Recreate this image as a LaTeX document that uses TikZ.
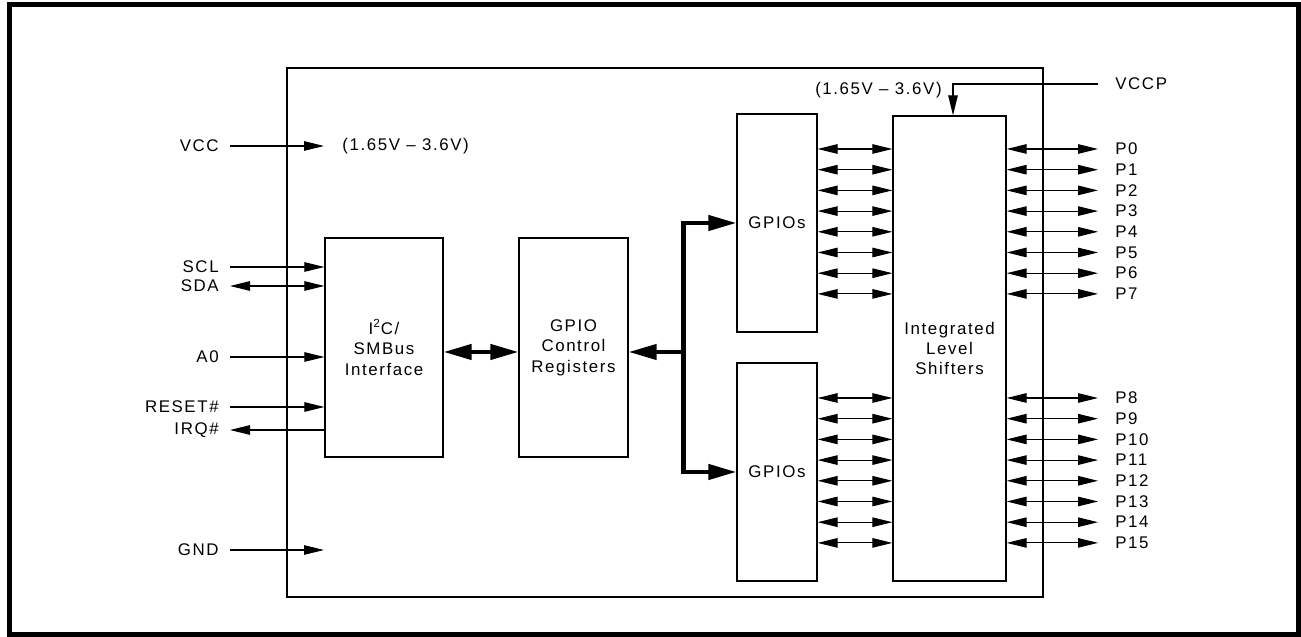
\documentclass[tikz,border=0pt]{standalone}
\usepackage{fontspec}
\setmainfont{Liberation Sans}[LetterSpace=9.5]
\usetikzlibrary{arrows.meta,positioning}

\begin{document}
\begin{tikzpicture}[
  font=\fontsize{9.6}{11.6}\selectfont,
  >={Triangle[length=0.4cm,width=0.19cm]},
  bustip/.tip={Triangle[length=0.56cm,width=0.3cm]},
  blk/.style={draw, line width=0.7pt, align=center, inner sep=0pt},
  sig/.style={line width=0.6pt},
  bus/.style={line width=2.4pt},
  pinl/.style={anchor=east, inner xsep=0.22cm, inner ysep=0pt},
  pinr/.style={anchor=west, inner xsep=0.34cm, inner ysep=0pt}
]
\useasboundingbox (0,0) rectangle (26.02,12.74);
\draw[line width=0.1cm] (0.196,0.05) rectangle (25.97,12.656);
\node[blk, line width=0.6pt, minimum width=15.12cm, minimum height=10.58cm] (chip) at (13.3,6.09) {};

\node[blk, minimum width=2.36cm, minimum height=4.38cm] (i2c) at (7.68,5.79) {I\textsuperscript{2}C/\\SMBus\\Interface};
\node[blk, minimum width=2.18cm, minimum height=4.38cm] (gpioreg) at (11.47,5.79) {GPIO\\Control\\Registers};
\node[blk, minimum width=1.6cm, minimum height=4.36cm] (gpioa) at (15.54,8.28) {GPIOs};
\node[blk, minimum width=1.6cm, minimum height=4.36cm] (gpiob) at (15.54,3.30) {GPIOs};
\node[blk, minimum width=2.26cm, minimum height=9.30cm] (shift) at (18.99,5.77) {Integrated\\Level\\Shifters};

\node[pinl] (vcc) at (4.6,9.82) {VCC};
\node[pinl] (scl) at (4.6,7.40) {SCL};
\node[pinl] (sda) at (4.6,7.02) {SDA};
\node[pinl] (a0) at (4.6,5.60) {A0};
\node[pinl] (reset) at (4.6,4.60) {RESET\#};
\node[pinl] (irq) at (4.6,4.14) {IRQ\#};
\node[pinl] (gnd) at (4.6,1.74) {GND};
\coordinate (vccin) at (6.48,9.82);
\coordinate (gndin) at (6.48,1.74);
\node[right=0.36cm of vccin, inner sep=0pt] (vccrange) {(1.65V – 3.6V)};

\draw[sig,->] (vcc.east) -- (vccin);
\draw[sig,->] (gnd.east) -- (gndin);
\draw[sig,->] (scl.east) -- (scl.east -| i2c.west);
\draw[sig,<->] (sda.east) -- (sda.east -| i2c.west);
\draw[sig,->] (a0.east) -- (a0.east -| i2c.west);
\draw[sig,->] (reset.east) -- (reset.east -| i2c.west);
\draw[sig,<-] (irq.east) -- (irq.east -| i2c.west);

\draw[bus,bustip-bustip] ([yshift=-0.09cm]i2c.east) -- ([yshift=-0.09cm]gpioreg.west);
\coordinate (tap) at (13.67,5.70);
\draw[bus,-bustip] (tap) -- (tap -| gpioreg.east);
\draw[bus,bustip-bustip] (gpioa.west) -| (tap) |- (gpiob.west);

\node[pinr] (vccp) at (21.96,11.06) {VCCP};
\node[anchor=east, inner sep=0pt] (vccprange) at (18.84,10.94) {(1.65V – 3.6V)};
\draw[sig,->] (vccp.west) -| ([xshift=0.07cm]shift.north);

\foreach \i in {0,...,7}
  \node[pinr] (p\i) at (21.96,{9.76-0.414*\i}) {P\i};
\foreach \i in {8,...,15}
  \node[pinr] (p\i) at (21.96,{4.78-0.414*(\i-8)}) {P\i};
\foreach \i in {0,...,7} {
  \draw[sig,<->] (gpioa.east |- p\i.west) -- (shift.west |- p\i.west);
  \draw[sig,<->] (shift.east |- p\i.west) -- (p\i.west);
}
\foreach \i in {8,...,15} {
  \draw[sig,<->] (gpiob.east |- p\i.west) -- (shift.west |- p\i.west);
  \draw[sig,<->] (shift.east |- p\i.west) -- (p\i.west);
}
\end{tikzpicture}
\end{document}
